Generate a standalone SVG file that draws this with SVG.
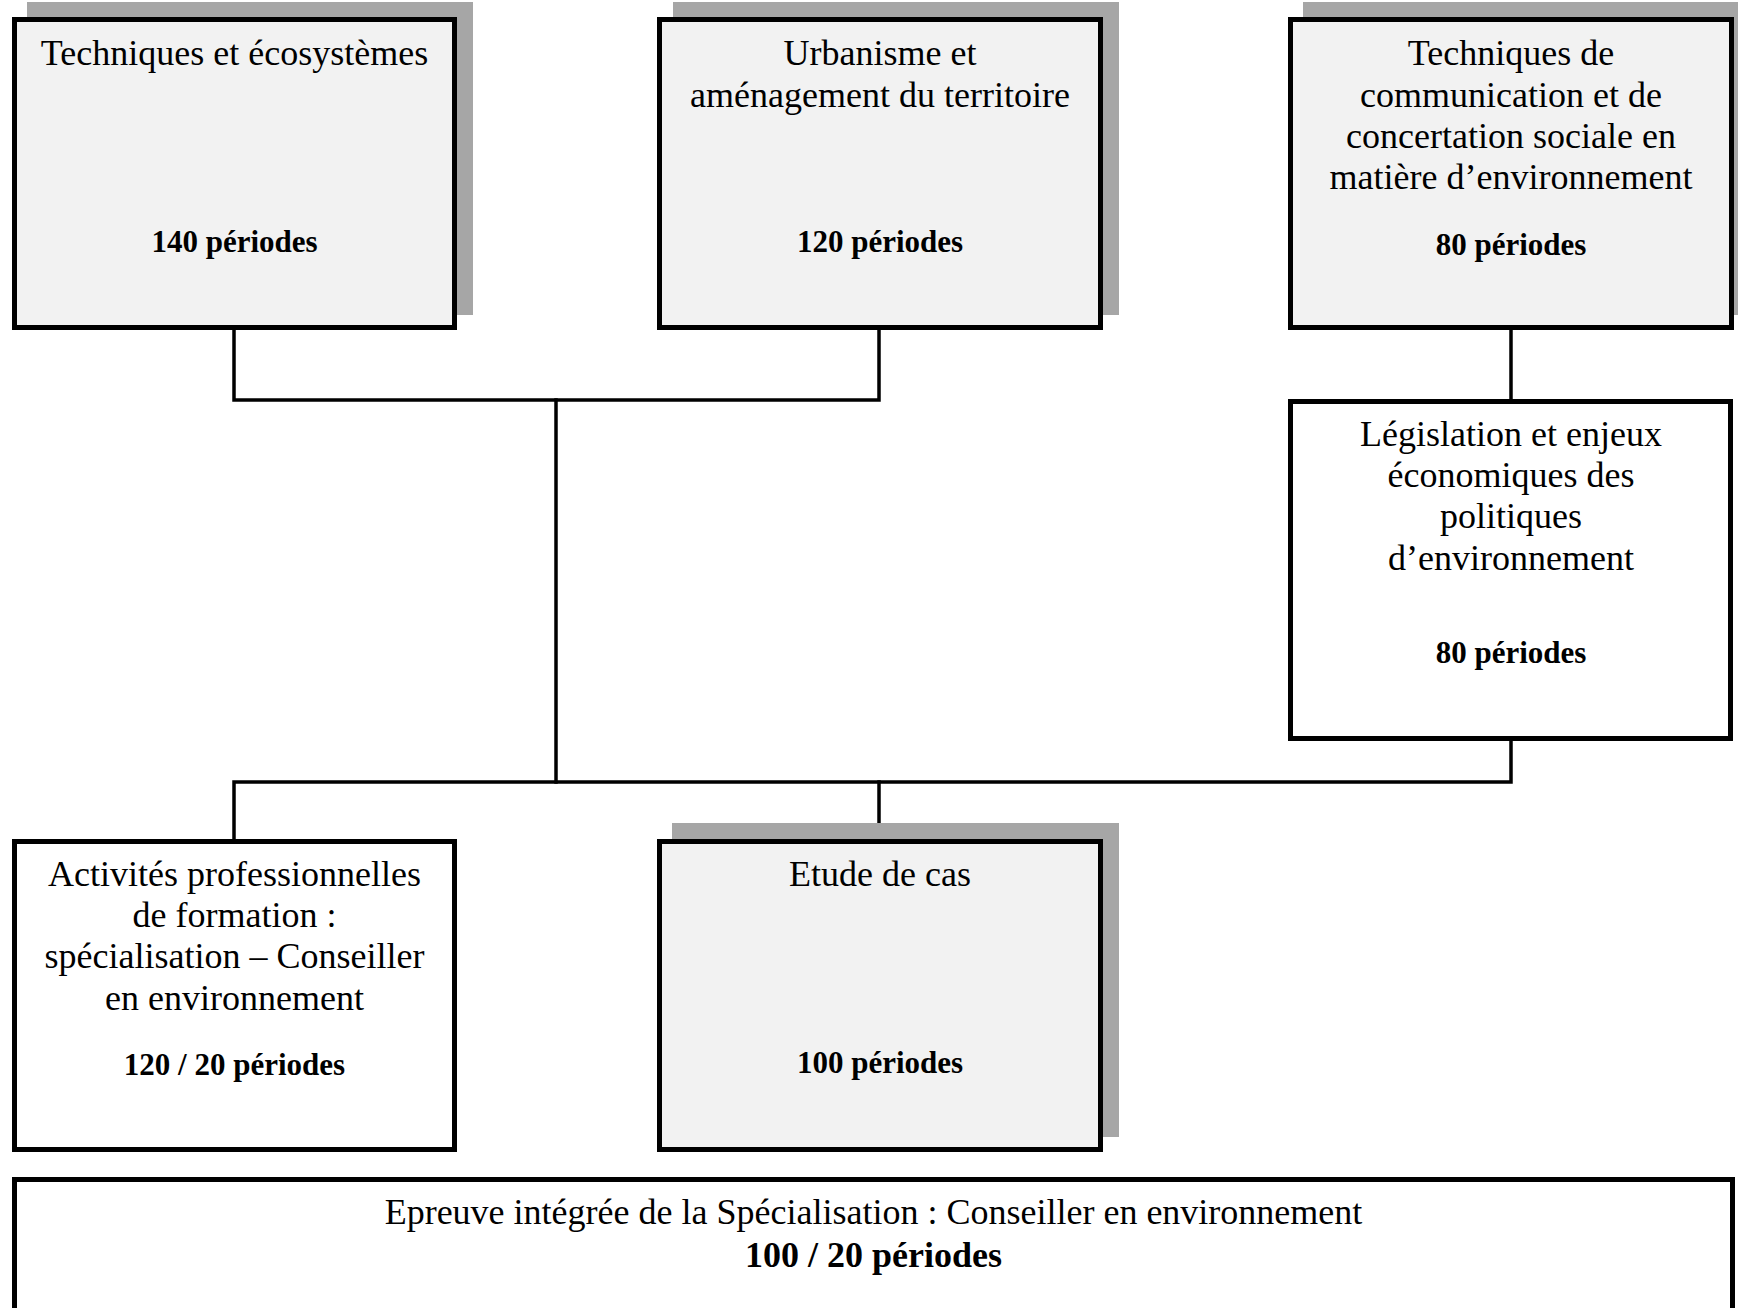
<svg xmlns="http://www.w3.org/2000/svg" width="1738" height="1308" viewBox="0 0 1738 1308">
<style>
.shadow{fill:#a6a6a6}
.box{fill:#f2f2f2;stroke:#000;stroke-width:5}
.wbox{fill:#fff;stroke:#000;stroke-width:5}
.t{font-family:"Liberation Serif","Times New Roman",serif;font-size:36px;fill:#000;text-anchor:middle}
.b{font-family:"Liberation Serif","Times New Roman",serif;font-size:31px;font-weight:bold;fill:#000;text-anchor:middle}
.bb{font-family:"Liberation Serif","Times New Roman",serif;font-size:36px;font-weight:bold;fill:#000;text-anchor:middle}
.conn{fill:none;stroke:#000;stroke-width:3.5;stroke-linecap:square}
</style>
<rect width="1738" height="1308" fill="#fff"/>
<g id="connectors">
<polyline class="conn" points="234,330 234,400 879,400 879,330"/>
<line class="conn" x1="556" y1="400" x2="556" y2="782"/>
<line class="conn" x1="1511" y1="330" x2="1511" y2="399"/>
<polyline class="conn" points="234,839 234,782 1511,782 1511,741"/>
<line class="conn" x1="879" y1="782" x2="879" y2="839"/>
</g>
<g id="n1">
<rect class="shadow" x="27" y="2" width="446" height="313"/>
<rect class="box" x="14.5" y="19.5" width="440" height="308"/>
<text class="t" x="234.5" y="65">Techniques et écosystèmes</text>
<text class="b" x="234.5" y="252">140 périodes</text>
</g>
<g id="n2">
<rect class="shadow" x="673" y="2" width="446" height="313"/>
<rect class="box" x="659.5" y="19.5" width="441" height="308"/>
<text class="t" x="880" y="65">Urbanisme et</text>
<text class="t" x="880" y="107">aménagement du territoire</text>
<text class="b" x="880" y="252">120 périodes</text>
</g>
<g id="n3">
<rect class="shadow" x="1303" y="2" width="446" height="313"/>
<rect class="box" x="1290.5" y="19.5" width="441" height="308"/>
<text class="t" x="1511" y="65">Techniques de</text>
<text class="t" x="1511" y="107">communication et de</text>
<text class="t" x="1511" y="148">concertation sociale en</text>
<text class="t" x="1511" y="189">matière d’environnement</text>
<text class="b" x="1511" y="255">80 périodes</text>
</g>
<g id="n4">
<rect class="wbox" x="1290.5" y="401.5" width="440" height="337"/>
<text class="t" x="1511" y="446">Législation et enjeux</text>
<text class="t" x="1511" y="487">économiques des</text>
<text class="t" x="1511" y="528">politiques</text>
<text class="t" x="1511" y="570">d’environnement</text>
<text class="b" x="1511" y="663">80 périodes</text>
</g>
<g id="n5">
<rect class="wbox" x="14.5" y="841.5" width="440" height="308"/>
<text class="t" x="234.5" y="886">Activités professionnelles</text>
<text class="t" x="234.5" y="927">de formation :</text>
<text class="t" x="234.5" y="968">spécialisation – Conseiller</text>
<text class="t" x="234.5" y="1010">en environnement</text>
<text class="b" x="234.5" y="1075">120 / 20 périodes</text>
</g>
<g id="n6">
<rect class="shadow" x="672" y="823" width="447" height="314"/>
<rect class="box" x="659.5" y="841.5" width="441" height="308"/>
<text class="t" x="880" y="886">Etude de cas</text>
<text class="b" x="880" y="1073">100 périodes</text>
</g>
<g id="n7">
<rect class="wbox" x="14.5" y="1179.5" width="1718" height="200"/>
<text class="t" x="873.5" y="1224">Epreuve intégrée de la Spécialisation : Conseiller en environnement</text>
<text class="bb" x="873.5" y="1267">100 / 20 périodes</text>
</g>
</svg>
